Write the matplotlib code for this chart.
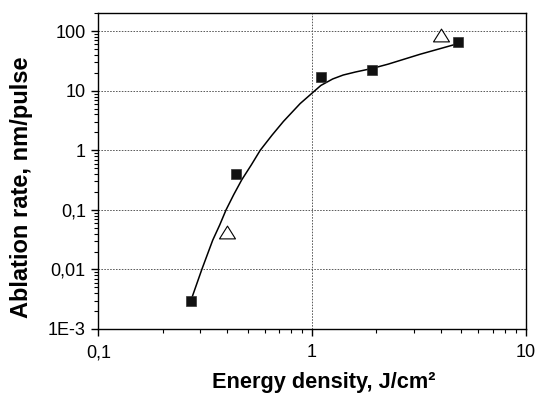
import numpy as np
import matplotlib
matplotlib.use('Agg')
import matplotlib.pyplot as plt
from matplotlib.path import Path
from matplotlib.ticker import NullFormatter, LogLocator

plt.rcParams['font.family'] = ['Liberation Sans', 'DejaVu Sans']

# measured ablation rates (filled squares)
sq_energy = [0.27, 0.44, 1.10, 1.91, 4.81]
sq_rate = [0.003, 0.40, 16.8, 22.4, 65.0]

# second data set (open triangles)
tri_energy = [0.40, 4.02]
tri_rate = [0.042, 86.0]

# trend curve
fit_energy = [0.272, 0.305, 0.343, 0.37, 0.396, 0.43, 0.469, 0.52, 0.572,
              0.65, 0.735, 0.88, 1.03, 1.10, 1.25, 1.40, 1.60, 1.90, 2.27,
              3.2, 4.75]
fit_rate = [0.0031, 0.01, 0.031, 0.056, 0.1, 0.18, 0.32, 0.57, 1.0,
            1.8, 3.06, 6.1, 10.0, 12.3, 15.8, 18.4, 20.7, 23.6, 28.0,
            41.0, 61.0]

x_ticks = [0.1, 1, 10]
x_tick_labels = ['0,1', '1', '10']
y_ticks = [1e-3, 1e-2, 1e-1, 1, 10, 100]
y_tick_labels = ['1E-3', '0,01', '0,1', '1', '10', '100']

fig = plt.figure(figsize=(5.37, 3.97), dpi=100)
ax = fig.add_axes([0.1831, 0.1713, 0.7959, 0.7952])

ax.set_xscale('log')
ax.set_yscale('log')
ax.set_xlim(0.1, 10)
ax.set_ylim(1e-3, 200)

ax.plot(fit_energy, fit_rate, '-', color='black', linewidth=1.1, zorder=3)
ax.plot(sq_energy, sq_rate, 's', color='#111111', markersize=7.3,
        markeredgewidth=0.5, markeredgecolor='#333333', zorder=4)
# open triangle, a bit wider than tall
tri = Path([(-1, -0.8), (1, -0.8), (0, 0.8), (-1, -0.8)], closed=True)
ax.plot(tri_energy, tri_rate, linestyle='none', marker=tri, markersize=11.5,
        markerfacecolor='white', markeredgecolor='black',
        markeredgewidth=0.8, zorder=4)

ax.set_xticks(x_ticks, x_tick_labels)
ax.set_yticks(y_ticks, y_tick_labels)
ax.xaxis.set_minor_locator(LogLocator(base=10, subs=np.arange(2, 10)))
ax.yaxis.set_minor_locator(LogLocator(base=10, subs=np.arange(2, 10)))
ax.xaxis.set_minor_formatter(NullFormatter())
ax.yaxis.set_minor_formatter(NullFormatter())

ax.tick_params(which='major', direction='out', length=5, width=1.0,
               labelsize=13, pad=4, colors='black')
ax.tick_params(which='minor', direction='out', length=2.8, width=0.8)
ax.tick_params(axis='x', which='major', pad=6)

ax.grid(True, which='major', linestyle=(0, (1.6, 1.4)), linewidth=0.7,
        color='0.35')
for s in ax.spines.values():
    s.set_linewidth(1.0)
    s.set_color('black')

ax.set_xlabel('Energy density, J/cm²', fontsize=15.7, fontweight='bold')
ax.set_ylabel('Ablation rate, nm/pulse', fontsize=17, fontweight='bold')
ax.xaxis.set_label_coords(0.528, -0.137)
ax.yaxis.set_label_coords(-0.153, 0.45)

plt.savefig('out.png', dpi=100, facecolor='white')
